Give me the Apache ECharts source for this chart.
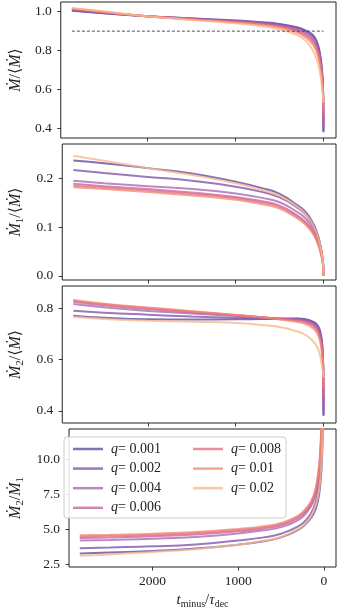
<!DOCTYPE html>
<html><head><meta charset="utf-8">
<script src="https://cdn.jsdelivr.net/npm/echarts@6/dist/echarts.min.js"></script>
<style>html,body{margin:0;padding:0;background:#fff}#c{width:338px;height:610px}</style>
</head><body><div id="c"></div>
<script>
// ---- data ----
const tPoints = [2850, 2500, 2000, 1500, 1000, 700, 500, 300, 200, 120, 70, 40, 20, 8, 2, 0];
const qLabels = ['0.001', '0.002', '0.004', '0.006', '0.008', '0.01', '0.02'];
const qColors = ['rgba(92,74,158,0.78)', 'rgba(127,82,166,0.78)', 'rgba(164,96,173,0.75)', 'rgba(196,92,156,0.75)',
                 'rgba(228,104,127,0.75)', 'rgba(242,136,110,0.75)', 'rgba(251,184,140,0.8)'];
// Mdot / <Mdot>
const mdotTotal = [
  [1.005, 0.992, 0.977, 0.966, 0.955, 0.946, 0.937, 0.920, 0.903, 0.880, 0.840, 0.785, 0.715, 0.635, 0.53, 0.38],
  [1.007, 0.993, 0.977, 0.965, 0.953, 0.944, 0.935, 0.917, 0.899, 0.874, 0.833, 0.778, 0.708, 0.630, 0.53, 0.385],
  [1.011, 0.996, 0.977, 0.964, 0.951, 0.941, 0.931, 0.911, 0.892, 0.864, 0.822, 0.766, 0.697, 0.622, 0.53, 0.40],
  [1.014, 0.998, 0.977, 0.962, 0.949, 0.938, 0.927, 0.905, 0.884, 0.853, 0.810, 0.754, 0.686, 0.614, 0.53, 0.43],
  [1.015, 0.999, 0.977, 0.961, 0.947, 0.935, 0.923, 0.899, 0.876, 0.842, 0.797, 0.741, 0.674, 0.605, 0.53, 0.46],
  [1.016, 1.000, 0.977, 0.960, 0.945, 0.932, 0.919, 0.893, 0.867, 0.830, 0.783, 0.726, 0.661, 0.596, 0.54, 0.49],
  [1.019, 1.002, 0.977, 0.958, 0.940, 0.925, 0.910, 0.880, 0.850, 0.800, 0.745, 0.690, 0.625, 0.575, 0.545, 0.53]
];
// Mdot1 / <Mdot>
const mdot1 = [
  [0.2365, 0.231, 0.221, 0.210, 0.193, 0.180, 0.168, 0.145, 0.130, 0.108, 0.086, 0.066, 0.047, 0.032, 0.016, 0.0],
  [0.217, 0.211, 0.203, 0.195, 0.183, 0.172, 0.161, 0.140, 0.125, 0.104, 0.083, 0.064, 0.046, 0.031, 0.015, 0.0],
  [0.195, 0.190, 0.184, 0.178, 0.169, 0.160, 0.151, 0.131, 0.117, 0.098, 0.078, 0.060, 0.043, 0.029, 0.014, 0.0],
  [0.189, 0.184, 0.178, 0.171, 0.162, 0.153, 0.144, 0.124, 0.110, 0.092, 0.072, 0.055, 0.040, 0.027, 0.013, 0.0],
  [0.185, 0.181, 0.175, 0.168, 0.159, 0.150, 0.141, 0.121, 0.107, 0.089, 0.070, 0.053, 0.038, 0.026, 0.012, 0.0],
  [0.182, 0.178, 0.172, 0.165, 0.156, 0.147, 0.138, 0.118, 0.104, 0.086, 0.068, 0.052, 0.037, 0.025, 0.012, 0.0],
  [0.2465, 0.236, 0.221, 0.207, 0.190, 0.176, 0.164, 0.142, 0.126, 0.104, 0.083, 0.064, 0.046, 0.031, 0.016, 0.0]
];
// Mdot2 / <Mdot>
const mdot2 = [
  [0.771, 0.763, 0.757, 0.756, 0.757, 0.758, 0.759, 0.760, 0.757, 0.748, 0.735, 0.712, 0.675, 0.62, 0.52, 0.38],
  [0.791, 0.783, 0.775, 0.768, 0.763, 0.760, 0.759, 0.759, 0.755, 0.745, 0.731, 0.707, 0.670, 0.615, 0.52, 0.385],
  [0.817, 0.804, 0.790, 0.780, 0.770, 0.764, 0.760, 0.757, 0.752, 0.741, 0.725, 0.700, 0.662, 0.610, 0.52, 0.40],
  [0.826, 0.812, 0.797, 0.785, 0.773, 0.765, 0.759, 0.754, 0.748, 0.736, 0.718, 0.692, 0.653, 0.603, 0.52, 0.43],
  [0.830, 0.816, 0.801, 0.788, 0.774, 0.765, 0.758, 0.751, 0.744, 0.730, 0.711, 0.683, 0.643, 0.596, 0.52, 0.46],
  [0.832, 0.818, 0.803, 0.789, 0.774, 0.764, 0.756, 0.747, 0.738, 0.722, 0.701, 0.671, 0.631, 0.588, 0.53, 0.49],
  [0.767, 0.758, 0.752, 0.748, 0.743, 0.735, 0.727, 0.710, 0.695, 0.672, 0.648, 0.617, 0.578, 0.555, 0.54, 0.53]
];
// Mdot2 / Mdot1
const mdotRatio = [
  [3.28, 3.35, 3.45, 3.62, 3.90, 4.15, 4.42, 4.95, 5.45, 6.1, 7.0, 8.3, 10.3, 13.5, 22, 60],
  [3.65, 3.70, 3.78, 3.92, 4.20, 4.42, 4.68, 5.2, 5.7, 6.5, 7.6, 9.2, 12.0, 17, 30, 60],
  [4.19, 4.24, 4.32, 4.45, 4.70, 4.92, 5.15, 5.65, 6.2, 7.0, 8.2, 10.0, 13.5, 19, 33, 60],
  [4.37, 4.42, 4.50, 4.62, 4.85, 5.05, 5.28, 5.8, 6.35, 7.2, 8.5, 10.3, 13.8, 20, 34, 60],
  [4.49, 4.53, 4.61, 4.73, 4.95, 5.15, 5.38, 5.9, 6.45, 7.3, 8.7, 10.6, 14.2, 21, 35, 60],
  [4.57, 4.61, 4.68, 4.80, 5.02, 5.22, 5.45, 5.97, 6.55, 7.4, 8.8, 10.8, 14.5, 21, 35, 60],
  [3.12, 3.20, 3.38, 3.58, 3.90, 4.18, 4.45, 5.0, 5.5, 6.3, 7.3, 8.7, 10.8, 14, 24, 60]
];
const thresholdT = [2850, 0];
const thresholdV = [0.9, 0.9];
const xTicks = [0, 1000, 2000];
const yTicks = [[0.4, 0.6, 0.8, 1.0], [0.0, 0.1, 0.2], [0.4, 0.6, 0.8], [2.5, 5.0, 7.5, 10.0]];

// ---- layout ----
const FONT = "'Liberation Serif','DejaVu Serif',serif";
const grids = [
  {left: 58, top: 2, width: 278, height: 136},
  {left: 58, top: 144, width: 278, height: 136},
  {left: 58, top: 286, width: 278, height: 137},
  {left: 58, top: 429, width: 278, height: 138}
];
const yRanges = [[0.35, 1.05], [-0.0085, 0.2705], [0.353, 0.887], [2.31, 12.14]];
const panels = [mdotTotal, mdot1, mdot2, mdotRatio];
const rich = {
  i: {fontFamily: FONT, fontStyle: 'italic', fontSize: 16, color: '#222', lineHeight: 19, verticalAlign: 'middle'},
  n: {fontFamily: FONT, fontSize: 16, color: '#222', lineHeight: 19, verticalAlign: 'middle'},
  s: {fontFamily: FONT, fontSize: 11, color: '#222', lineHeight: 19, verticalAlign: 'bottom'}
};
const xRich = {
  i: {fontFamily: FONT, fontStyle: 'italic', fontSize: 15, color: '#222', lineHeight: 18, verticalAlign: 'middle'},
  n: {fontFamily: FONT, fontSize: 15, color: '#222', lineHeight: 18, verticalAlign: 'middle'},
  s: {fontFamily: FONT, fontSize: 10, color: '#222', lineHeight: 18, verticalAlign: 'bottom'}
};
const yNames = [
  '{i|Ṁ}{n|/⟨}{i|Ṁ}{n|⟩}',
  '{i|Ṁ}{s|1}{n|/⟨}{i|Ṁ}{n|⟩}',
  '{i|Ṁ}{s|2}{n|/⟨}{i|Ṁ}{n|⟩}',
  '{i|Ṁ}{s|2}{n|/}{i|Ṁ}{s|1}'
];
const tickStyle = {show: true, inside: false, length: 3.5, lineStyle: {color: '#222', width: 0.9}};

const xAxis = grids.map((g, k) => ({
  type: 'value', gridIndex: k, inverse: true, min: -142, max: 2976,
  splitLine: {show: false}, axisLine: {show: false, onZero: false},
  axisTick: Object.assign({customValues: xTicks}, tickStyle),
  axisLabel: {show: k === 3, customValues: xTicks, margin: 7, fontFamily: FONT, fontSize: 13.5, color: '#222',
              formatter: v => String(Math.round(v))},
  name: k === 3 ? '{i|t}{s|minus}{n|/}{i|τ}{s|dec}' : '',
  nameLocation: 'middle', nameGap: 24,
  nameTextStyle: {rich: xRich}
}));
const yAxis = grids.map((g, k) => ({
  type: 'value', gridIndex: k, min: yRanges[k][0], max: yRanges[k][1],
  splitLine: {show: false}, axisLine: {show: false, onZero: false},
  axisTick: Object.assign({customValues: yTicks[k]}, tickStyle),
  axisLabel: {customValues: yTicks[k], margin: 9, fontFamily: FONT, fontSize: 13.5, color: '#222',
              formatter: v => v.toFixed(1)},
  name: yNames[k], nameLocation: 'middle', nameRotate: 90, nameGap: 33,
  nameTextStyle: {rich: rich}
}));

const series = [];
panels.forEach((vals, k) => {
  vals.forEach((arr, j) => {
    series.push({
      type: 'line', name: 'q= ' + qLabels[j], xAxisIndex: k, yAxisIndex: k,
      data: tPoints.map((t, i) => [t, arr[i]]),
      showSymbol: false, symbol: 'none', smooth: 0.5, clip: true,
      lineStyle: {color: qColors[j], width: 2}, itemStyle: {color: qColors[j]},
      emphasis: {disabled: true}, z: 2
    });
  });
});
series.push({
  type: 'line', name: 'threshold', xAxisIndex: 0, yAxisIndex: 0,
  data: thresholdT.map((t, i) => [t, thresholdV[i]]),
  showSymbol: false, symbol: 'none',
  lineStyle: {color: '#3a3a5c', width: 0.9, type: [3, 2]}, z: 3
});

const legendText = {
  fontFamily: FONT, fontSize: 14, color: '#222', padding: [0, 0, 0, 3],
  rich: {q: {fontFamily: FONT, fontStyle: 'italic', fontSize: 14, color: '#222'},
         n: {fontFamily: FONT, fontSize: 14, color: '#222'}}
};
const legendFmt = name => '{q|q}{n|' + name.slice(1) + '}';
const legends = [
  {data: qLabels.slice(0, 4).map(q => 'q= ' + q), left: 68, top: 437},
  {data: qLabels.slice(4).map(q => 'q= ' + q), left: 188, top: 437}
].map(l => Object.assign(l, {
  orient: 'vertical', icon: 'rect', itemWidth: 30, itemHeight: 2.5, itemGap: 5.6,
  textStyle: legendText, formatter: legendFmt, selectedMode: false, z: 20
}));

const chart = echarts.init(document.getElementById('c'), null, {renderer: 'canvas'});
chart.setOption({
  animation: false,
  backgroundColor: '#fff',
  grid: grids.map(g => Object.assign({show: true, borderColor: '#222', borderWidth: 1, backgroundColor: 'transparent'}, g)),
  xAxis: xAxis, yAxis: yAxis,
  legend: legends,
  graphic: [{type: 'rect', shape: {x: 64, y: 437, width: 222, height: 81, r: 3},
             style: {fill: 'rgba(255,255,255,0.85)', stroke: '#cccccc', lineWidth: 1}, z: 10}],
  series: series
});
</script></body></html>
